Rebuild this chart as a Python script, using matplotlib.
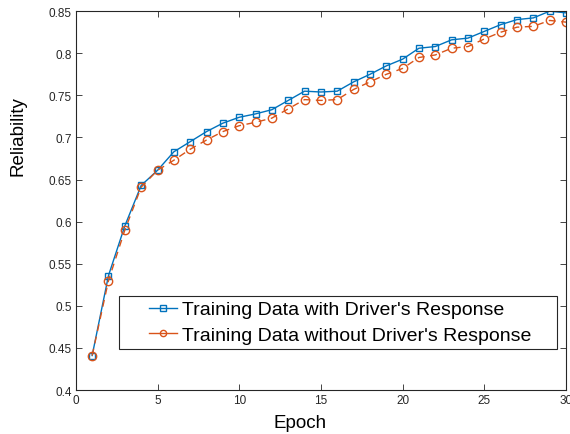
import matplotlib
matplotlib.use("Agg")
from matplotlib import pyplot as plt
from matplotlib.lines import Line2D
from matplotlib.legend_handler import HandlerLine2D

epochs = list(range(1, 31))
with_resp = [0.441, 0.536, 0.595, 0.643, 0.661, 0.683, 0.695, 0.707, 0.717, 0.724,
             0.728, 0.733, 0.744, 0.755, 0.754, 0.755, 0.766, 0.775, 0.785, 0.793,
             0.806, 0.808, 0.816, 0.818, 0.826, 0.834, 0.840, 0.842, 0.850, 0.848]
without_resp = [0.441, 0.530, 0.590, 0.641, 0.661, 0.673, 0.686, 0.697, 0.707, 0.714,
                0.718, 0.723, 0.734, 0.745, 0.744, 0.745, 0.757, 0.766, 0.775, 0.782,
                0.795, 0.798, 0.806, 0.808, 0.817, 0.825, 0.831, 0.832, 0.839, 0.837]

plt.rcParams['font.family'] = ['Liberation Sans', 'DejaVu Sans']

fig = plt.figure(figsize=(5.7, 4.35), dpi=100)
ax = fig.add_axes([0.133, 0.101, 0.86, 0.871])

ax.plot(epochs, with_resp, color='#0072BD', marker='s', markersize=5,
        markerfacecolor='none', linewidth=1, label="Training Data with Driver's Response")
ax.plot(epochs, without_resp, color='#D95319', marker='o', markersize=6,
        markerfacecolor='none', linewidth=1, linestyle=(0, (5, 4)),
        label="Training Data without Driver's Response")

ax.set_xlim(0, 30)
ax.set_ylim(0.4, 0.85)
ax.set_xticks([0, 5, 10, 15, 20, 25, 30])
ax.set_yticks([0.4, 0.45, 0.5, 0.55, 0.6, 0.65, 0.7, 0.75, 0.8, 0.85])
ax.set_yticklabels(['0.4', '0.45', '0.5', '0.55', '0.6', '0.65', '0.7', '0.75', '0.8', '0.85'])
ax.tick_params(direction='in', top=True, right=True, labelsize=8.5, length=4, width=0.6,
               colors='#262626', pad=3)
for s in ax.spines.values():
    s.set_linewidth(0.8)
    s.set_color('#262626')

# labels sit off-centre in the original
ax.set_xlabel('Epoch', fontsize=13.5)
ax.set_ylabel('Reliability', fontsize=13.5)
ax.xaxis.set_label_coords(0.457, -0.063)
ax.yaxis.set_label_coords(-0.10, 0.673)

leg = ax.legend(loc='lower left', bbox_to_anchor=(0.0878, 0.108, 0.894, 0.14), mode='expand',
                fontsize=14, fancybox=False, edgecolor='#262626', framealpha=1,
                handlelength=2.75, handletextpad=0.25, markerscale=0.75,
                borderpad=0.25, labelspacing=0.43, borderaxespad=0,
                handler_map={Line2D: HandlerLine2D(xpad=1.3)})
leg.get_frame().set_linewidth(0.8)
leg.get_lines()[1].set_linestyle('-')

fig.savefig('out.png', dpi=100)
